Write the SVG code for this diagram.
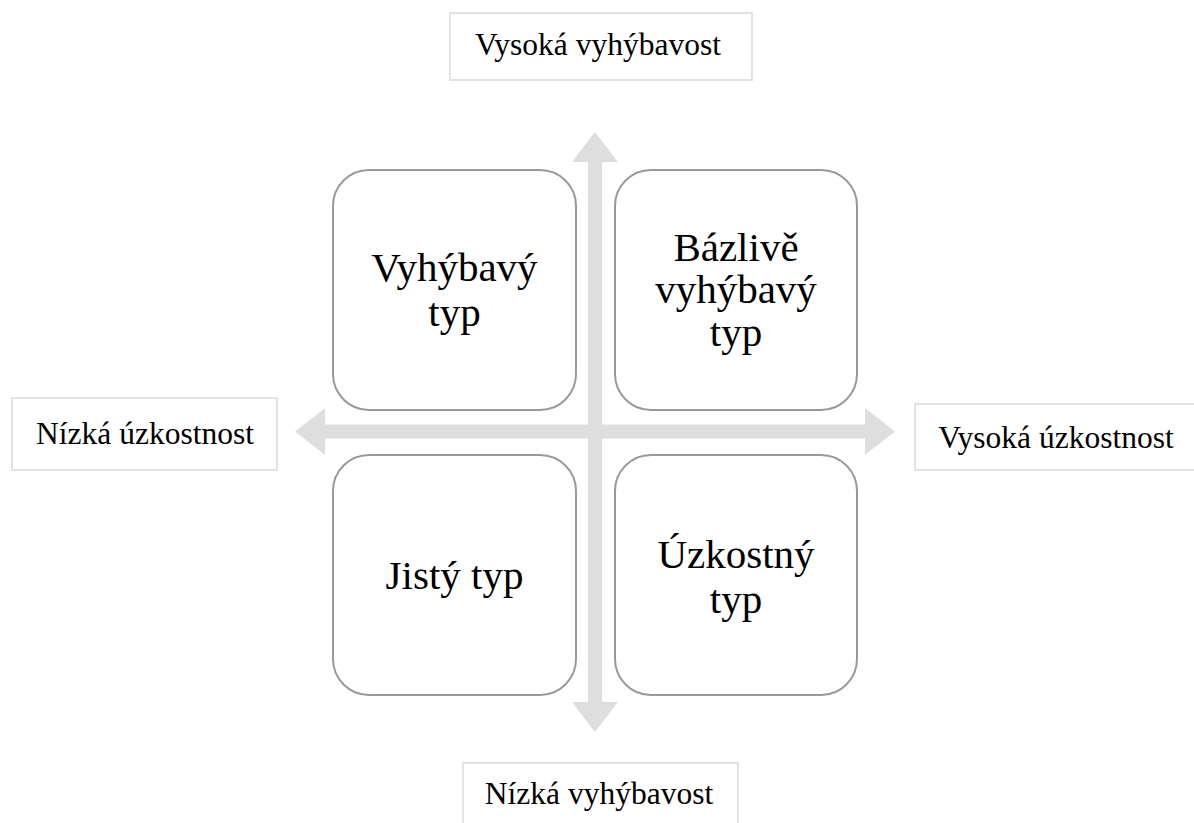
<svg xmlns="http://www.w3.org/2000/svg" width="1194" height="823" viewBox="0 0 1194 823">
<style>
.lbl{fill:#ffffff;stroke:#e2e2e2;stroke-width:2}
.quad{fill:#ffffff;stroke:#999999;stroke-width:2}
.arrow{fill:#dedede;stroke:none}
.t{font-family:"Liberation Serif","Times New Roman",serif;fill:#000000;text-anchor:middle}
.ts{font-size:31.5px}
.tb{font-size:41px}
</style>
<rect width="1194" height="823" fill="#ffffff"/>
<g id="connectors">
<polygon class="arrow" points="595,132 618,162 602,162 602,702 618,702 595,732 572,702 588,702 588,162 572,162"/>
<polygon class="arrow" points="295,431.5 325,408 325,424.5 865,424.5 865,408 895,431.5 865,455 865,438.5 325,438.5 325,455"/>
</g>
<g id="label-top">
<rect class="lbl" x="450" y="13" width="302" height="67"/>
<text class="t ts" x="598" y="55">Vysoká vyhýbavost</text>
</g>
<g id="label-bottom">
<rect class="lbl" x="463" y="763" width="275" height="70"/>
<text class="t ts" x="599" y="804">Nízká vyhýbavost</text>
</g>
<g id="label-left">
<rect class="lbl" x="12" y="398" width="265" height="72"/>
<text class="t ts" x="145" y="444">Nízká úzkostnost</text>
</g>
<g id="label-right">
<rect class="lbl" x="915" y="404" width="290" height="66"/>
<text class="t ts" x="1056" y="448">Vysoká úzkostnost</text>
</g>
<g id="q-top-left">
<rect class="quad" x="333" y="170" width="243" height="240" rx="36"/>
<text class="t tb" x="454.5" y="281">Vyhýbavý</text>
<text class="t tb" x="454.5" y="326">typ</text>
</g>
<g id="q-top-right">
<rect class="quad" x="615" y="170" width="242" height="240" rx="36"/>
<text class="t tb" x="736" y="261">Bázlivě</text>
<text class="t tb" x="736" y="303">vyhýbavý</text>
<text class="t tb" x="736" y="346">typ</text>
</g>
<g id="q-bottom-left">
<rect class="quad" x="333" y="455" width="243" height="240" rx="36"/>
<text class="t tb" x="454.5" y="589">Jistý typ</text>
</g>
<g id="q-bottom-right">
<rect class="quad" x="615" y="455" width="242" height="240" rx="36"/>
<text class="t tb" x="736" y="568">Úzkostný</text>
<text class="t tb" x="736" y="613">typ</text>
</g>
</svg>
